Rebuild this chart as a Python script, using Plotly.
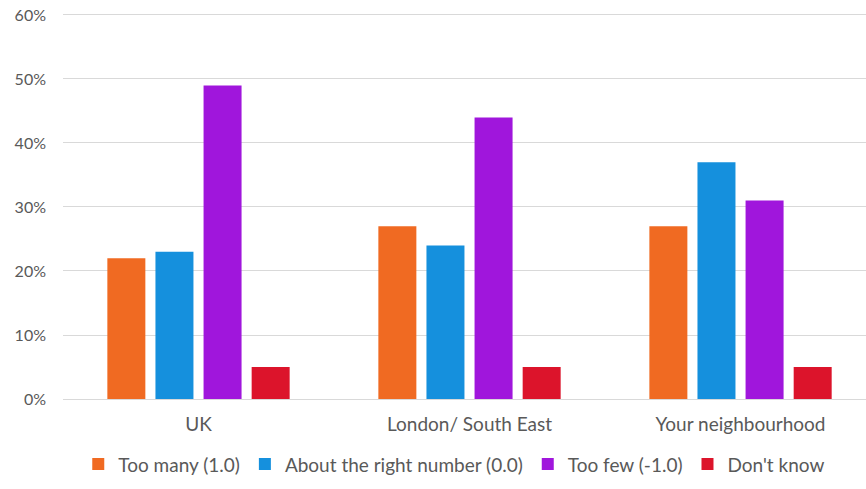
import plotly.graph_objects as go

categories = ["UK", "London/ South East", "Your neighbourhood"]
series_names = ["Too many (1.0)", "About the right number (0.0)", "Too few (-1.0)", "Don't know"]
too_many = [22, 27, 27]
about_right = [23, 24, 37]
too_few = [49, 44, 31]
dont_know = [5, 5, 5]
tick_vals = [0, 10, 20, 30, 40, 50, 60]
tick_text = ["0%", "10%", "20%", "30%", "40%", "50%", "60%"]

colors = ["#F06A22", "#1590DD", "#A016DC", "#DC142B"]
values = [too_many, about_right, too_few, dont_know]

fig = go.Figure()
for name, vals, col in zip(series_names, values, colors):
    fig.add_trace(go.Bar(x=categories, y=vals, name=name, marker_color=col,
                         marker_line_width=0))

fig.update_layout(
    width=866, height=489,
    margin=dict(l=63, r=0, t=13, b=90, autoexpand=False),
    paper_bgcolor="white", plot_bgcolor="white",
    barmode="group", bargap=0.29, bargroupgap=0.21,
    font=dict(family="Lato, Open Sans, sans-serif", size=16, color="#595959"),
    showlegend=True,
    legend=dict(orientation="h", x=0.019, xanchor="left", y=-0.169, yanchor="middle",
                font=dict(size=19, color="#595959"), itemwidth=30, tracegroupgap=0,
                borderwidth=0),
    xaxis=dict(showgrid=False, showline=True, linecolor="#d9d9d9", linewidth=1,
               range=[-0.5, 2.463],
               ticks="", ticklabelstandoff=8,
               tickfont=dict(size=19, color="#595959")),
    yaxis=dict(range=[0, 60.31], tickvals=tick_vals, ticktext=tick_text,
               showgrid=True, gridcolor="#d9d9d9", gridwidth=1, zeroline=False,
               showline=False, ticks="", ticklabelstandoff=16,
               tickfont=dict(size=16, color="#595959")),
)

fig.write_html("out.html", config={"displayModeBar": False},
               post_script="document.body.style.margin='0';document.body.style.overflow='hidden';")
